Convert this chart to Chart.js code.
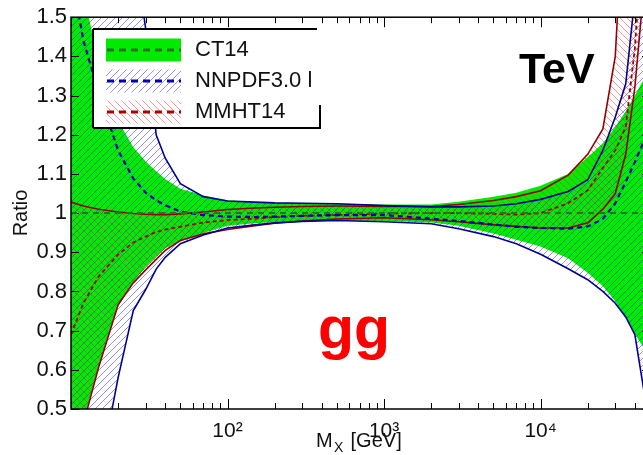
<!DOCTYPE html>
<html><head><meta charset="utf-8">
<script src="https://cdn.jsdelivr.net/npm/chart.js@4.4.0/dist/chart.umd.min.js"></script>
<style>
html,body{margin:0;padding:0;overflow:hidden;background:#fff;width:643px;height:455px}
#wrap{position:absolute;left:0;top:0;width:660px;height:455px}
</style>
</head><body><div id="wrap"><canvas id="c" width="660" height="455"></canvas></div>
<script>
// ---- data ----
const massGeV     = [10, 12, 15, 20, 25, 30, 35, 40, 50, 70, 100, 150, 200, 300, 500, 1000, 2000, 3000, 5000, 7000, 10000, 15000, 20000, 25000, 30000, 35000, 40000, 50000];
const ct14Central = [1,1,1,1,1,1,1,1,1,1,1,1,1,1,1,1,1,1,1,1,1,1,1,1,1,1,1,1];
const ct14Upper   = [1.80, 1.56, 1.39, 1.235, 1.168, 1.132, 1.107, 1.087, 1.062, 1.045, 1.033, 1.028, 1.026, 1.025, 1.024, 1.022, 1.022, 1.029, 1.042, 1.052, 1.070, 1.100, 1.143, 1.178, 1.220, 1.260, 1.300, 1.370];
const ct14Lower   = [0.30, 0.47, 0.61, 0.762, 0.824, 0.863, 0.889, 0.910, 0.928, 0.949, 0.968, 0.974, 0.977, 0.979, 0.981, 0.980, 0.976, 0.968, 0.948, 0.932, 0.915, 0.885, 0.848, 0.813, 0.775, 0.732, 0.692, 0.630];
const nnpdfCentral= [1.62, 1.44, 1.31, 1.16, 1.088, 1.052, 1.033, 1.020, 1.004, 0.995, 0.991, 0.990, 0.991, 0.993, 0.995, 0.995, 0.986, 0.980, 0.971, 0.965, 0.962, 0.960, 0.966, 0.985, 1.025, 1.080, 1.130, 1.220];
const nnpdfUpper  = [3.0, 2.7, 2.3, 1.95, 1.70, 1.47, 1.20, 1.14, 1.075, 1.042, 1.031, 1.028, 1.026, 1.025, 1.024, 1.019, 1.016, 1.016, 1.018, 1.024, 1.035, 1.055, 1.085, 1.160, 1.245, 1.330, 1.550, 2.000];
const nnpdfLower  = [-0.05, 0.12, 0.32, 0.58, 0.751, 0.805, 0.857, 0.887, 0.922, 0.944, 0.962, 0.970, 0.975, 0.979, 0.981, 0.978, 0.973, 0.960, 0.940, 0.922, 0.895, 0.858, 0.830, 0.800, 0.770, 0.735, 0.690, 0.450];
const mmhtCentral = [0.69, 0.77, 0.838, 0.894, 0.925, 0.940, 0.952, 0.958, 0.965, 0.976, 0.982, 0.986, 0.990, 0.993, 0.995, 0.999, 1.000, 1.000, 0.998, 0.996, 1.000, 1.025, 1.058, 1.115, 1.160, 1.220, 1.420, 2.000];
const mmhtUpper   = [1.028, 1.018, 1.010, 1.003, 0.999, 0.997, 0.996, 0.996, 0.998, 1.003, 1.009, 1.013, 1.015, 1.017, 1.018, 1.017, 1.017, 1.022, 1.032, 1.042, 1.057, 1.097, 1.150, 1.215, 1.400, 1.900, 2.400, 3.000];
const mmhtLower   = [0.33, 0.463, 0.606, 0.766, 0.822, 0.855, 0.882, 0.905, 0.930, 0.947, 0.958, 0.968, 0.974, 0.980, 0.985, 0.988, 0.983, 0.978, 0.970, 0.966, 0.962, 0.962, 0.975, 1.010, 1.050, 1.150, 1.320, 1.750];
const seriesNames = ['CT14', 'NNPDF3.0 l', 'MMHT14'];
const yTickValues = [0.5, 0.6, 0.7, 0.8, 0.9, 1.0, 1.1, 1.2, 1.3, 1.4, 1.5];
const xMajorTicks = [100, 1000, 10000];
const xMajorLabels = ['10²', '10³', '10⁴'];
const xRange = [10, 50000];
const yRange = [0.5, 1.5];

// ---- styles ----
const FONT = '"Liberation Sans", Arial, Helvetica, sans-serif';
Chart.defaults.font.family = FONT;
const GREEN = 'rgb(0,235,0)';
const CT_DASH = 'rgb(40,115,40)';
const NN_LINE = 'rgb(0,0,150)', NN_DASH = 'rgb(0,0,175)';
const MM_LINE = 'rgb(150,0,0)', MM_DASH = 'rgb(170,0,0)';

function makeHatch(color, dir, size) {
  const c = document.createElement('canvas'); c.width = c.height = size;
  const g = c.getContext('2d'); g.strokeStyle = color; g.lineWidth = 1;
  g.beginPath();
  if (dir > 0) {
    g.moveTo(0, size); g.lineTo(size, 0);
    g.moveTo(-size/2, size/2); g.lineTo(size/2, -size/2);
    g.moveTo(size/2, size*1.5); g.lineTo(size*1.5, size/2);
  } else {
    g.moveTo(0, 0); g.lineTo(size, size);
    g.moveTo(-size/2, size/2); g.lineTo(size/2, size*1.5);
    g.moveTo(size/2, -size/2); g.lineTo(size*1.5, size/2);
  }
  g.stroke();
  return g.createPattern(c, 'repeat');
}
const nnHatch = makeHatch('rgba(40,40,220,0.5)', 1, 7);
const mmHatch = makeHatch('rgba(230,50,50,0.5)', -1, 7);

const pts = arr => massGeV.map((m, i) => ({x: m, y: arr[i]}));
const base = {pointRadius: 0, tension: 0, fill: false};

const datasets = [
  {...base, label: seriesNames[0] + ' central', data: pts(ct14Central), borderColor: CT_DASH, borderWidth: 2, borderDash: [6, 5]},
  {...base, label: seriesNames[1] + ' central', data: pts(nnpdfCentral), borderColor: NN_DASH, borderWidth: 2.2, borderDash: [5, 4]},
  {...base, label: seriesNames[2] + ' central', data: pts(mmhtCentral), borderColor: MM_DASH, borderWidth: 1.8, borderDash: [4, 3]},
  {...base, label: seriesNames[1] + ' upper', data: pts(nnpdfUpper), borderColor: NN_LINE, borderWidth: 1.6},
  {...base, label: seriesNames[1] + ' lower', data: pts(nnpdfLower), borderColor: NN_LINE, borderWidth: 1.6, fill: '-1', backgroundColor: nnHatch},
  {...base, label: seriesNames[2] + ' upper', data: pts(mmhtUpper), borderColor: MM_LINE, borderWidth: 1.6},
  {...base, label: seriesNames[2] + ' lower', data: pts(mmhtLower), borderColor: MM_LINE, borderWidth: 1.6, fill: '-1', backgroundColor: mmHatch},
  {...base, label: seriesNames[0] + ' upper', data: pts(ct14Upper), borderColor: 'rgba(0,0,0,0)', borderWidth: 0},
  {...base, label: seriesNames[0] + ' lower', data: pts(ct14Lower), borderColor: 'rgba(0,0,0,0)', borderWidth: 0, fill: '-1', backgroundColor: GREEN},
];

const decor = {
  id: 'decor',
  beforeDatasetsDraw(chart) {
    const {ctx, chartArea: a, scales: {x, y}} = chart;
    ctx.save(); ctx.strokeStyle = '#000'; ctx.lineWidth = 1;
    ctx.beginPath();
    for (let d = 10; d <= 10000; d *= 10) {
      for (let k = 1; k <= 9; k++) {
        const v = k * d; if (v < xRange[0] || v > xRange[1]) continue;
        const px = Math.round(x.getPixelForValue(v)) + 0.5;
        const len = k === 1 ? 10 : 6;
        ctx.moveTo(px, a.bottom); ctx.lineTo(px, a.bottom - len);
        ctx.moveTo(px, a.top); ctx.lineTo(px, a.top + len);
      }
    }
    yTickValues.forEach(v => {
      const py = Math.round(y.getPixelForValue(v)) + 0.5;
      ctx.moveTo(a.left, py); ctx.lineTo(a.left + 8, py);
      ctx.moveTo(a.right, py); ctx.lineTo(a.right - 8, py);
    });
    ctx.stroke(); ctx.restore();
  },
  afterDatasetsDraw(chart) {
    const {ctx, chartArea: a} = chart;
    ctx.save();
    // frame
    ctx.strokeStyle = '#000'; ctx.lineWidth = 1.5;
    ctx.strokeRect(a.left, a.top, a.right - a.left, a.bottom - a.top);
    // legend box
    ctx.fillStyle = '#fff'; ctx.fillRect(93, 29, 227, 99);
    ctx.lineWidth = 2; ctx.strokeStyle = '#000';
    ctx.beginPath();
    ctx.moveTo(93, 29); ctx.lineTo(317, 29);
    ctx.moveTo(93, 29); ctx.lineTo(93, 128);
    ctx.moveTo(93, 128); ctx.lineTo(321, 128);
    ctx.moveTo(320, 105); ctx.lineTo(320, 128);
    ctx.stroke();
    const rows = [
      {cy: 50, fill: GREEN, dash: CT_DASH},
      {cy: 81, fill: nnHatch, dash: NN_DASH},
      {cy: 112, fill: mmHatch, dash: MM_DASH},
    ];
    rows.forEach((r, i) => {
      ctx.fillStyle = r.fill; ctx.fillRect(106, r.cy - 11.5, 75, 23);
      ctx.strokeStyle = r.dash; ctx.lineWidth = 3; ctx.setLineDash([7, 5]);
      ctx.beginPath(); ctx.moveTo(107, r.cy); ctx.lineTo(181, r.cy); ctx.stroke();
      ctx.setLineDash([]);
      ctx.fillStyle = '#111'; ctx.font = '22px ' + FONT;
      ctx.textAlign = 'left'; ctx.textBaseline = 'middle';
      ctx.fillText(seriesNames[i], 195, r.cy);
    });
    // annotations
    ctx.fillStyle = '#000'; ctx.font = 'bold 43px ' + FONT;
    ctx.textAlign = 'left'; ctx.textBaseline = 'alphabetic';
    ctx.fillText('TeV', 519, 83);
    ctx.fillStyle = 'rgb(255,0,0)'; ctx.font = 'bold 59px ' + FONT;
    ctx.fillText('gg', 318, 348);
    // axis titles
    ctx.fillStyle = '#111'; ctx.font = '20px ' + FONT;
    ctx.fillText('M', 316, 447);
    ctx.font = '14px ' + FONT; ctx.fillText('X', 334, 452);
    ctx.font = '20px ' + FONT; ctx.fillText(' [GeV]', 345, 447);
    ctx.translate(21, 213); ctx.rotate(-Math.PI / 2);
    ctx.textAlign = 'center'; ctx.textBaseline = 'middle';
    ctx.fillText('Ratio', 0, 0);
    ctx.restore();
  }
};

new Chart(document.getElementById('c'), {
  type: 'line',
  data: {datasets},
  plugins: [decor],
  options: {
    responsive: false, animation: false, devicePixelRatio: 1,
    layout: {padding: {left: 0, top: 17, right: 10, bottom: 0}},
    plugins: {legend: {display: false}, tooltip: {enabled: false}, filler: {propagate: false, drawTime: 'beforeDatasetsDraw'}},
    scales: {
      x: {
        type: 'logarithmic', min: xRange[0], max: xRange[1],
        grid: {display: false, drawTicks: false}, border: {display: false},
        afterBuildTicks: s => { s.ticks = xMajorTicks.map(v => ({value: v, major: true})); },
        afterFit: s => { s.height = 46; },
        ticks: {autoSkip: false, maxRotation: 0, padding: 10, color: '#111', font: {size: 21},
          callback: (v, i) => xMajorLabels[i]}
      },
      y: {
        type: 'linear', min: yRange[0], max: yRange[1],
        grid: {display: false, drawTicks: false}, border: {display: false},
        afterBuildTicks: s => { s.ticks = yTickValues.map(v => ({value: v})); },
        afterFit: s => { s.width = 71; },
        ticks: {padding: 4, color: '#111', font: {size: 22},
          callback: v => { const r = Math.round(v * 10) / 10; return r === 1 ? '1' : r.toFixed(1); }}
      }
    }
  }
});
</script>
</body></html>
